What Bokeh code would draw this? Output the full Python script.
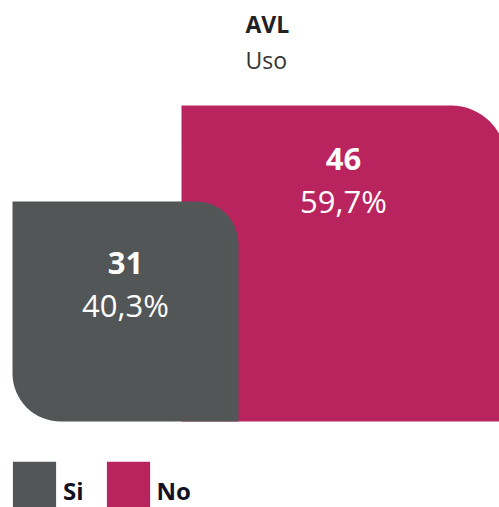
from bokeh.plotting import figure
from bokeh.models import Range1d, Label, ColumnDataSource, Legend, LegendItem
from bokeh.embed import file_html
from bokeh.resources import INLINE
from bokeh.core.properties import value

# ---- data ----
categories = ["Si", "No"]
counts = [31, 46]
percents = ["40,3%", "59,7%"]
title_main = "AVL"
title_sub = "Uso"

# ---- styles / layout ----
colors = ["#525657", "#BA245E"]
radii = [(0, 42, 0, 48), (0, 55, 0, 0)]
W, H = 499, 507
BASE = -3.4            # visual baseline of blocks (value units)
BOTTOM_PX = 421
TOP_PX = 105
LEFT_PX = [12, 181]
NUM_DY = [62, 53]
PCT_GAP = 42
FONT = "Open Sans"

s = (BOTTOM_PX - TOP_PX) / (max(counts) - BASE)
kx = s * 1.027

p = figure(width=W, height=H, output_backend="svg", toolbar_location=None,
           x_range=Range1d(0, W / kx),
           y_range=Range1d(BASE - (H - BOTTOM_PX) / s, BASE + BOTTOM_PX / s),
           min_border=0)
p.xaxis.visible = False
p.yaxis.visible = False
p.grid.visible = False
p.outline_line_color = None
p.background_fill_color = "white"
p.border_fill_color = "white"

lefts = [lp / kx for lp in LEFT_PX]
rights = [l + (c - BASE) for l, c in zip(lefts, counts)]

renderers = {}
for i in [1, 0]:
    src = ColumnDataSource(dict(left=[lefts[i]], right=[rights[i]],
                                top=[counts[i]], bottom=[BASE]))
    r = p.quad(left="left", right="right", top="top", bottom="bottom", source=src,
               fill_color=colors[i], line_color=None, border_radius=radii[i])
    renderers[i] = r

for i in range(len(categories)):
    cx = (lefts[i] + min(rights[i], W / kx + 0.9)) / 2
    src = ColumnDataSource(dict(x=[cx], y=[counts[i]], t=[str(counts[i])], pc=[percents[i]]))
    p.text(x="x", y="y", text="t", source=src, y_offset=NUM_DY[i],
           text_align="center", text_baseline="alphabetic",
           text_font=value(FONT), text_font_size="31px", text_font_style="bold",
           text_color="white")
    p.text(x="x", y="y", text="pc", source=src, y_offset=NUM_DY[i] + PCT_GAP,
           text_align="center", text_baseline="alphabetic",
           text_font=value(FONT), text_font_size="31px",
           text_color="white")

p.add_layout(Label(x=245, y=H - 23, x_units="screen", y_units="screen", text=title_main,
                   text_font=FONT, text_font_size="23px", text_font_style="bold",
                   text_color="#222222", text_baseline="alphabetic"))
p.add_layout(Label(x=245, y=H - 59, x_units="screen", y_units="screen", text=title_sub,
                   text_font=FONT, text_font_size="23px",
                   text_color="#333333", text_baseline="alphabetic"))

legend = Legend(items=[LegendItem(label=categories[i], renderers=[renderers[i]]) for i in range(2)],
                orientation="horizontal", location=(7, -19),
                glyph_width=54, glyph_height=72, label_standoff=2, spacing=17,
                padding=0, margin=0, border_line_color=None, background_fill_alpha=0,
                label_text_font=FONT, label_text_font_size="24px",
                label_text_font_style="bold", label_text_color="#111122",
                label_text_baseline="middle")
p.add_layout(legend, "center")

open("out.html", "w").write(file_html(p, INLINE))
